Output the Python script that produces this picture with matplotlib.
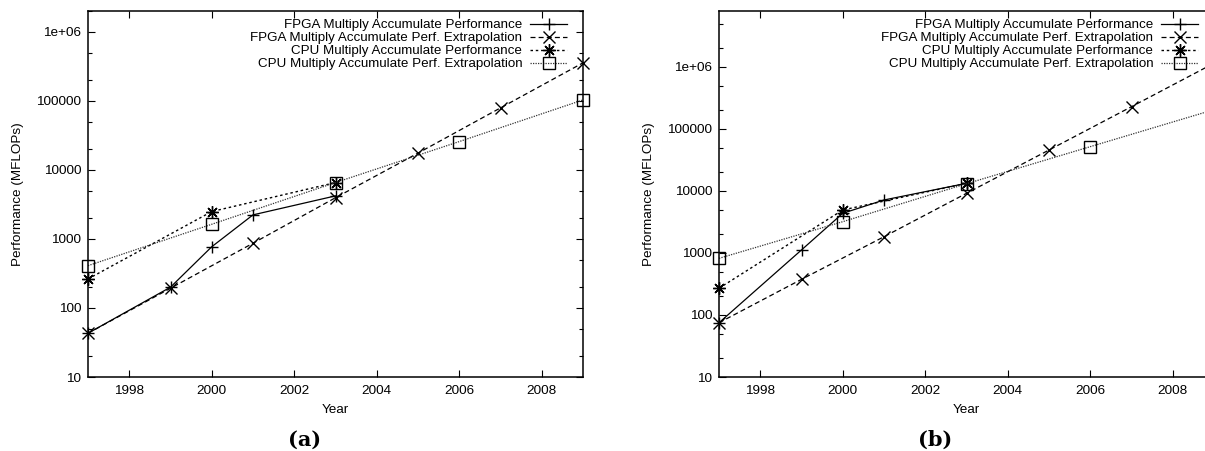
import matplotlib
matplotlib.use("Agg")
import matplotlib.pyplot as plt
from matplotlib.ticker import FixedLocator, LogLocator, FuncFormatter, NullFormatter

plt.rcParams['font.family'] = ['Liberation Sans', 'DejaVu Sans']
plt.rcParams['font.size'] = 9.7

# ---- data ----
labels = ["FPGA Multiply Accumulate Performance",
          "FPGA Multiply Accumulate Perf. Extrapolation",
          "CPU Multiply Accumulate Performance",
          "CPU Multiply Accumulate Perf. Extrapolation"]

years_fpga = [1997, 1999, 2000, 2001, 2003]
years_fpga_ext = [1997, 1999, 2001, 2003, 2005, 2007, 2009]
years_cpu = [1997, 2000, 2003]
years_cpu_ext = [1997, 2000, 2003, 2006, 2009]

# panel (a)
fpga_a = [43, 200, 770, 2230, 4200]
fpga_ext_a = [43, 193, 866, 3950, 17500, 79000, 355000]
cpu_a = [263, 2490, 6550]
cpu_ext_a = [410, 1630, 6550, 25700, 103000]

# panel (b)
fpga_b = [75, 1120, 4370, 7160, 13300]
fpga_ext_b = [75, 376, 1830, 9180, 45800, 229000, 1150000]
cpu_b = [270, 4940, 13300]
cpu_ext_b = [820, 3200, 13100, 51900, 205000]

year_ticks = [1998, 2000, 2002, 2004, 2006, 2008]
perf_ticks = [10, 100, 1000, 10000, 100000, 1000000]


def fmt_perf(v, pos):
    if v >= 1e6:
        return "1e+06"
    return "%d" % v


def draw_panel(ax, fpga, fpga_ext, cpu, cpu_ext, ytop):
    star = (8, 2, 0)
    ax.plot(years_fpga, fpga, color='black', lw=0.9, ls='-', marker='+',
            ms=9, mew=1.0, label=labels[0], clip_on=False)
    ax.plot(years_fpga_ext, fpga_ext, color='black', lw=0.9, ls=(0, (4, 2.5)),
            marker='x', ms=8, mew=1.0, label=labels[1], clip_on=False)
    ax.plot(years_cpu, cpu, color='black', lw=1.0, ls=(0, (1.8, 2)),
            marker=star, ms=9, mew=1.0, label=labels[2], clip_on=False)
    ax.plot(years_cpu_ext, cpu_ext, color='#333333', lw=0.9, ls=(0, (1, 1)),
            marker='s', ms=8, mew=1.0, mfc='none', mec='black',
            label=labels[3], clip_on=False)

    ax.set_yscale('log')
    ax.set_xlim(1997, 2009)
    ax.set_ylim(10, ytop)
    ax.xaxis.set_major_locator(FixedLocator(year_ticks))
    ax.yaxis.set_major_locator(FixedLocator(perf_ticks))
    ax.yaxis.set_major_formatter(FuncFormatter(fmt_perf))
    ax.yaxis.set_minor_locator(LogLocator(base=10, subs=(2, 5)))
    ax.yaxis.set_minor_formatter(NullFormatter())
    ax.tick_params(which='both', direction='in', top=True, right=True,
                   width=0.8, colors='black')
    ax.tick_params(which='major', length=5)
    ax.tick_params(which='minor', length=3)
    ax.tick_params(axis='x', pad=6)
    ax.tick_params(axis='y', pad=5)
    for s in ax.spines.values():
        s.set_linewidth(1.1)

    ax.set_xlabel("Year")
    ax.set_ylabel("Performance (MFLOPs)")
    ax.xaxis.set_label_coords(0.5, -0.074)
    ax.yaxis.set_label_coords(-0.13, 0.5)

    ax.legend(loc='upper right', bbox_to_anchor=(1 - 16 / 495, 1 - 8 / 366),
              frameon=False, markerfirst=False, handlelength=2.75,
              handletextpad=0.6, labelspacing=0.05, borderpad=0,
              borderaxespad=0, numpoints=1, fontsize=9.6)


fig = plt.figure(figsize=(12.05, 4.51), dpi=100)
ax_a = fig.add_axes([88 / 1205, 74 / 451, 495 / 1205, 366 / 451])
ax_b = fig.add_axes([719 / 1205, 74 / 451, 495 / 1205, 366 / 451])

draw_panel(ax_a, fpga_a, fpga_ext_a, cpu_a, cpu_ext_a, 2.0e6)
draw_panel(ax_b, fpga_b, fpga_ext_b, cpu_b, cpu_ext_b, 8.0e6)

fig.text(305 / 1205, 1 - 440 / 451, "(a)", ha='center', va='center',
         family='DejaVu Serif', weight='bold', fontsize=15)
fig.text(935 / 1205, 1 - 440 / 451, "(b)", ha='center', va='center',
         family='DejaVu Serif', weight='bold', fontsize=15)

fig.savefig("out.png", dpi=100)
